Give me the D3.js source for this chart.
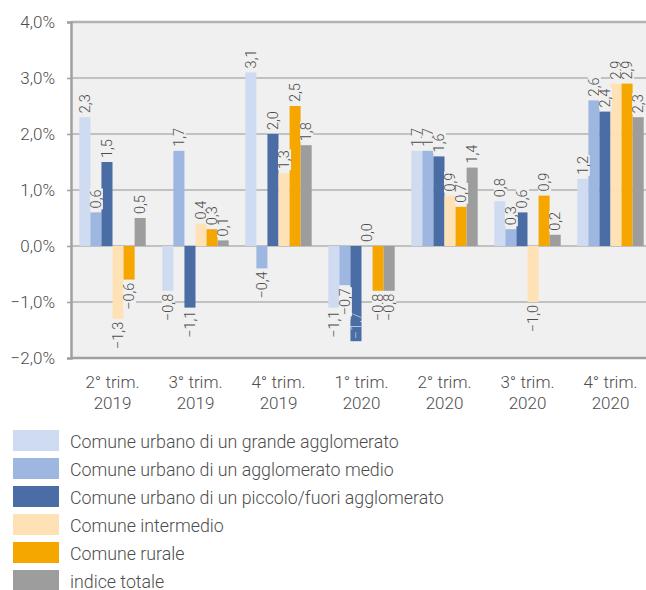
<!DOCTYPE html>
<html>
<head>
<meta charset="utf-8">
<script src="https://cdn.jsdelivr.net/npm/d3@7"></script>
<style>
  html, body { margin: 0; padding: 0; background: #ffffff; }
  svg { display: block; }
  text { font-family: Roboto, "Noto Sans", sans-serif; }
</style>
</head>
<body>
<svg id="chart" width="646" height="590"></svg>
<script>
const categories = [["2° trim.", "2019"], ["3° trim.", "2019"], ["4° trim.", "2019"], ["1° trim.", "2020"], ["2° trim.", "2020"], ["3° trim.", "2020"], ["4° trim.", "2020"]];
const seriesNames = [
  "Comune urbano di un grande agglomerato",
  "Comune urbano di un agglomerato medio",
  "Comune urbano di un piccolo/fuori agglomerato",
  "Comune intermedio",
  "Comune rurale",
  "indice totale"
];
const seriesColors = ["#cfdbf1", "#9db7e0", "#4a6da5", "#fee2b5", "#f5a700", "#9d9d9d"];
const grande     = [2.3, -0.8, 3.1, -1.1, 1.7, 0.8, 1.2];
const medio      = [0.6, 1.7, -0.4, -0.7, 1.7, 0.3, 2.6];
const piccolo    = [1.5, -1.1, 2.0, -1.7, 1.6, 0.6, 2.4];
const intermedio = [-1.3, 0.4, 1.3, 0.0, 0.9, -1.0, 2.9];
const rurale     = [-0.6, 0.3, 2.5, -0.8, 0.7, 0.9, 2.9];
const totale     = [0.5, 0.1, 1.8, -0.8, 1.4, 0.2, 2.3];
const seriesValues = [grande, medio, piccolo, intermedio, rurale, totale];
const yTicks = [-2, -1, 0, 1, 2, 3, 4];

const svg = d3.select("#chart");
const plot = { left: 71, right: 652, top: 22, bottom: 358 };
const txt = "#4d4d4d";
const fw = 300;

const x0 = d3.scaleBand().domain(d3.range(categories.length)).range([plot.left, plot.right]).paddingInner(0.2).paddingOuter(0.1);
const x1 = d3.scaleBand().domain(d3.range(seriesNames.length)).range([0, x0.bandwidth()]);
const y = d3.scaleLinear().domain([-2, 4]).range([plot.bottom, plot.top]);

const fmt = v => {
  const s = Math.abs(v).toFixed(1).replace(".", ",");
  return (v < 0 ? "\u2212" : "") + s;
};

// background
svg.append("rect").attr("x", plot.left).attr("y", plot.top)
  .attr("width", plot.right - plot.left).attr("height", plot.bottom - plot.top)
  .attr("fill", "#f0f0f0");

// gridlines
svg.append("g").selectAll("line").data(yTicks).join("line")
  .attr("x1", plot.left).attr("x2", plot.right)
  .attr("y1", d => y(d)).attr("y2", d => y(d))
  .attr("stroke", d => d === -2 ? "#a0a0a0" : "#b2b2b2")
  .attr("stroke-width", d => (d === -2 || d === 4) ? 2.5 : 1.5);

// y axis
const yAxis = d3.axisLeft(y).tickValues(yTicks).tickSize(4).tickPadding(12)
  .tickFormat(d => (d < 0 ? "\u2212" : "") + Math.abs(d).toFixed(1).replace(".", ",") + "%");
const ga = svg.append("g").attr("transform", `translate(${plot.left},0)`).call(yAxis);
ga.select(".domain").attr("stroke", "#a0a0a0").attr("stroke-width", 2.5);
ga.selectAll(".tick line").attr("stroke", "#a0a0a0").attr("stroke-width", 1.5);
ga.selectAll(".tick text").attr("fill", txt).attr("font-size", 17).attr("font-weight", fw)
  .attr("font-family", "Roboto, sans-serif");

// bars
const groups = svg.append("g").selectAll("g").data(categories).join("g")
  .attr("transform", (d, i) => `translate(${x0(i)},0)`);

const barData = (ci) => seriesValues.map((vals, si) => ({ si, v: vals[ci] }));

groups.each(function (c, ci) {
  const g = d3.select(this);
  g.selectAll("rect.bar").data(barData(ci)).join("rect").attr("class", "bar")
    .attr("x", d => x1(d.si)).attr("width", x1.bandwidth())
    .attr("y", d => y(Math.max(0, d.v))).attr("height", d => Math.abs(y(d.v) - y(0)))
    .attr("fill", d => seriesColors[d.si]);
});

// value labels
groups.each(function (c, ci) {
  const g = d3.select(this);
  barData(ci).forEach(d => {
    const cx = x1(d.si) + x1.bandwidth() / 2;
    const label = fmt(d.v);
    const lg = g.append("g");
    let t;
    let inside = false;
    if (d.v >= 0) {
      const yy = y(d.v) - 4;
      t = lg.append("text").attr("transform", `translate(${cx + 5},${yy}) rotate(-90)`)
        .attr("text-anchor", "start").text(label);
    } else {
      const bottom = y(d.v);
      let yy = bottom + 3;
      if (yy + 30 > plot.bottom) { yy = bottom - 2; inside = true; }
      t = lg.append("text").attr("transform", `translate(${cx + 5},${yy}) rotate(-90)`)
        .attr("text-anchor", inside ? "start" : "end").text(label);
    }
    t.attr("font-size", 14.5).attr("font-weight", 300).attr("fill", txt);
    if (inside) {
      t.attr("fill", "#ffffff").attr("fill-opacity", 0.6);
    } else {
      const bb = t.node().getBBox();
      lg.insert("rect", "text")
        .attr("transform", t.attr("transform"))
        .attr("x", bb.x - 1).attr("y", bb.y + 2).attr("width", bb.width + 2).attr("height", bb.height - 4)
        .attr("fill", "#f0f0f0");
    }
  });
});

// x axis labels
const xl = svg.append("g").selectAll("text").data(categories).join("text")
  .attr("x", (d, i) => x0(i) + x0.bandwidth() / 2)
  .attr("text-anchor", "middle").attr("font-size", 17).attr("font-weight", fw).attr("fill", txt);
xl.append("tspan").attr("x", (d, i) => x0(i) + x0.bandwidth() / 2).attr("y", 388).text(d => d[0]);
xl.append("tspan").attr("x", (d, i) => x0(i) + x0.bandwidth() / 2).attr("y", 409).text(d => d[1]);

// legend
const leg = svg.append("g").selectAll("g").data(seriesNames).join("g")
  .attr("transform", (d, i) => `translate(13,${430 + i * 28})`);
leg.append("rect").attr("width", 46).attr("height", 21).attr("fill", (d, i) => seriesColors[i]);
leg.append("text").attr("x", 57).attr("y", 17.5).attr("font-size", 17.8).attr("font-weight", fw)
  .attr("fill", txt).text(d => d);
</script>
</body>
</html>
